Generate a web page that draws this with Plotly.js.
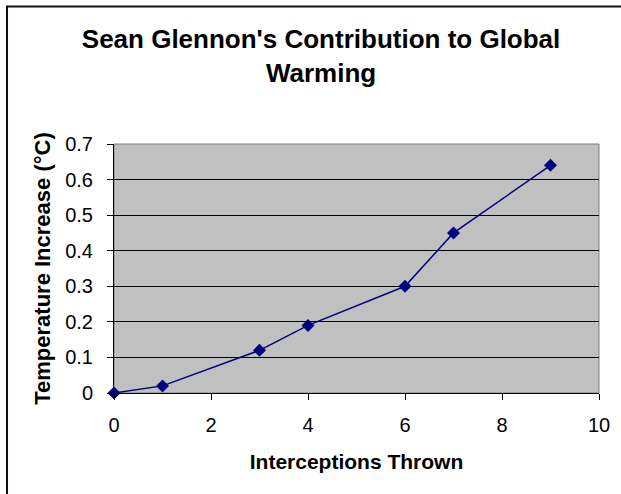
<!DOCTYPE html>
<html>
<head>
<meta charset="utf-8">
<script src="https://cdn.plot.ly/plotly-3.0.1.min.js"></script>
<style>
  html, body { margin: 0; padding: 0; background: #fff; }
  #chart { width: 621px; height: 494px; }
</style>
</head>
<body>
<div id="chart"></div>
<script>
var interceptions = [0, 1, 3, 4, 6, 7, 9];
var tempIncrease = [0, 0.02, 0.12, 0.19, 0.3, 0.45, 0.64];
var xTicks = [0, 2, 4, 6, 8, 10];
var yTicks = [0, 0.1, 0.2, 0.3, 0.4, 0.5, 0.6, 0.7];
var yTickLabels = ['0', '0.1', '0.2', '0.3', '0.4', '0.5', '0.6', '0.7'];

var FONT = 'Liberation Sans, Arial, Helvetica, sans-serif';

var trace = {
  x: interceptions,
  y: tempIncrease,
  type: 'scatter',
  mode: 'lines+markers',
  line: { color: '#000080', width: 1.5 },
  marker: { symbol: 'diamond', size: 10, color: '#000080' },
  cliponaxis: false,
  hoverinfo: 'x+y'
};

var layout = {
  width: 621,
  height: 494,
  margin: { l: 114, r: 22, t: 144, b: 101, pad: 0 },
  paper_bgcolor: '#ffffff',
  plot_bgcolor: '#c0c0c0',
  showlegend: false,
  font: { family: FONT, color: '#000000', size: 20 },
  title: {
    text: "<b>Sean Glennon's Contribution to Global<br>Warming</b>",
    font: { family: FONT, size: 26, color: '#000000' },
    x: 0.517, xref: 'container', xanchor: 'center',
    y: 0.903, yref: 'container', yanchor: 'top'
  },
  xaxis: {
    range: [0, 10],
    tickvals: xTicks,
    ticktext: xTicks.map(String),
    showgrid: false,
    zeroline: false,
    showline: true,
    linecolor: '#000000',
    linewidth: 1,
    ticks: 'outside',
    ticklen: 6,
    tickcolor: '#000000',
    tickfont: { family: FONT, size: 20, color: '#000000' },
    ticklabelstandoff: 8,
    title: {
      text: '<b>Interceptions Thrown</b>',
      font: { family: FONT, size: 21, color: '#000000' },
      standoff: 19
    },
    fixedrange: true
  },
  yaxis: {
    range: [0, 0.7],
    tickvals: yTicks,
    ticktext: yTickLabels,
    showgrid: true,
    gridcolor: '#000000',
    gridwidth: 1,
    zeroline: false,
    showline: true,
    linecolor: '#000000',
    linewidth: 1,
    ticks: 'outside',
    ticklen: 6,
    tickcolor: '#000000',
    tickfont: { family: FONT, size: 20, color: '#000000' },
    ticklabelstandoff: 10,
    title: {
      text: '<b>Temperature Increase (°C)</b>',
      font: { family: FONT, size: 22, color: '#000000' },
      standoff: 8
    },
    fixedrange: true
  },
  shapes: [
    {
      type: 'rect', xref: 'paper', yref: 'paper',
      x0: 0, x1: 1, y0: 0, y1: 1,
      line: { color: '#808080', width: 1 },
      layer: 'below'
    },
    {
      type: 'line', xref: 'paper', yref: 'paper',
      x0: -0.2206, x1: -0.2206, y0: -0.6, y1: 1.554,
      line: { color: '#111111', width: 2 }
    },
    {
      type: 'line', xref: 'paper', yref: 'paper',
      x0: -0.2226, x1: 1.05, y0: 1.552, y1: 1.552,
      line: { color: '#111111', width: 2 }
    }
  ]
};

Plotly.newPlot('chart', [trace], layout, { displayModeBar: false, staticPlot: true });
</script>
</body>
</html>
